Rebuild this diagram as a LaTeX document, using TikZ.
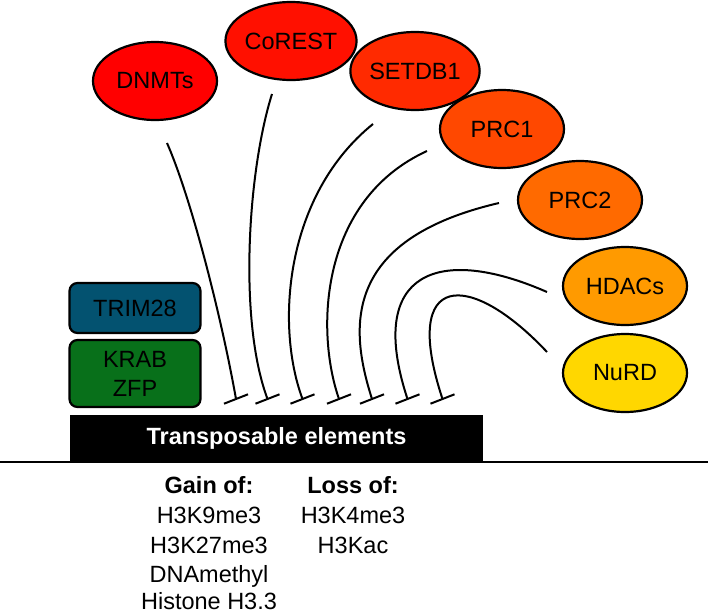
\documentclass[tikz,border=0pt]{standalone}
\usepackage{fontspec}
\setmainfont{Liberation Sans}
\usetikzlibrary{shapes.geometric}
\definecolor{cDNMT}{HTML}{FF0000}
\definecolor{cCoREST}{HTML}{FF1000}
\definecolor{cSETDB}{HTML}{FF2A00}
\definecolor{cPRCa}{HTML}{FF4800}
\definecolor{cPRCb}{HTML}{FF6A00}
\definecolor{cHDAC}{HTML}{FF9A00}
\definecolor{cNuRD}{HTML}{FFD700}
\definecolor{cTRIM}{HTML}{035270}
\definecolor{cKRAB}{HTML}{08701A}
\newcommand\bigtxt{\fontsize{23.5}{29}\selectfont}
\tikzset{
  enz/.style={ellipse, draw=black, line width=2.2pt, minimum width=124pt, minimum height=78pt, inner sep=0pt, font=\bigtxt},
  rbox/.style={draw=black, line width=2.2pt, rounded corners=8pt, minimum width=131pt, inner sep=0pt, align=center, font=\bigtxt},
  link/.style={line width=2pt},
  tbar/.style={line width=2pt},
  lbl/.style={anchor=base, inner sep=0pt, font=\bigtxt}
}
\begin{document}
\begin{tikzpicture}[x=1pt,y=-1pt]
\useasboundingbox (0,0) rectangle (708,613);
% enzymes
\node[enz, fill=cDNMT] (dnmt) at (155,81) {DNMTs};
\node[enz, fill=cCoREST] (corest) at (291,41) {CoREST};
\node[enz, fill=cSETDB] (setdb) at (415,71) {SETDB1};
\node[enz, fill=cPRCa] (prc1) at (502,129) {PRC1};
\node[enz, fill=cPRCb] (prc2) at (580,200) {PRC2};
\node[enz, fill=cHDAC] (hdac) at (625,286) {HDACs};
\node[enz, fill=cNuRD] (nurd) at (625,373) {NuRD};
% boxes
\node[rbox, fill=cTRIM, minimum height=50pt] (trim) at (135,308) {TRIM28};
\node[rbox, fill=cKRAB, minimum height=67pt] (krab) at (135,373.5) {KRAB\\ZFP};
\node[fill=black, minimum width=413pt, minimum height=47pt, inner sep=0pt, text=white, font=\bigtxt\bfseries] (te) at (276.5,438.5) {Transposable elements};
\coordinate (gl) at (0,462);
\coordinate (gr) at (708,462);
\draw[line width=2pt] (gl) -- (gr);
% start / end coordinates
\coordinate (s1) at (167,143);
\coordinate (s2) at (272,94);
\coordinate (s3) at (373,124);
\coordinate (s4) at (427,151);
\coordinate (s5) at (499,203);
\coordinate (s6) at (547,292);
\coordinate (s7) at (547,352);
\coordinate (t1) at (236,399);
\coordinate (t2) at (267.5,399);
\coordinate (t3) at (302.5,399);
\coordinate (t4) at (339,399);
\coordinate (t5) at (372,399);
\coordinate (t6) at (407.5,399);
\coordinate (t7) at (442.5,399);
\draw[link] (s1) .. controls (192,200) and (222,320) .. (t1);
\draw[link] (s2) .. controls (248,170) and (238,320) .. (t2);
\draw[link] (s3) .. controls (285,195) and (275,325) .. (t3);
\draw[link] (s4) .. controls (320,200) and (315,330) .. (t4);
\draw[link] (s5) .. controls (340,240) and (350,330) .. (t5);
\draw[link] (s6) .. controls (440,245) and (365,270) .. (t6);
\draw[link] (s7) .. controls (470,270) and (400,270) .. (t7);
\foreach \t in {t1,t2,t3,t4,t5,t6,t7}
  \draw[tbar] (\t) ++(-12,4.7) -- ++(24,-9.4);
% lists
\node[lbl, font=\bigtxt\bfseries] (gain) at (209,493) {Gain of:};
\node[lbl] (g1) at (209,523) {H3K9me3};
\node[lbl] (g2) at (209,553) {H3K27me3};
\node[lbl] (g3) at (209,582) {DNAmethyl};
\node[lbl] (g4) at (209,609) {Histone H3.3};
\node[lbl, font=\bigtxt\bfseries] (loss) at (353,493) {Loss of:};
\node[lbl] (l1) at (353,523) {H3K4me3};
\node[lbl] (l2) at (353,553) {H3Kac};
\end{tikzpicture}
\end{document}
